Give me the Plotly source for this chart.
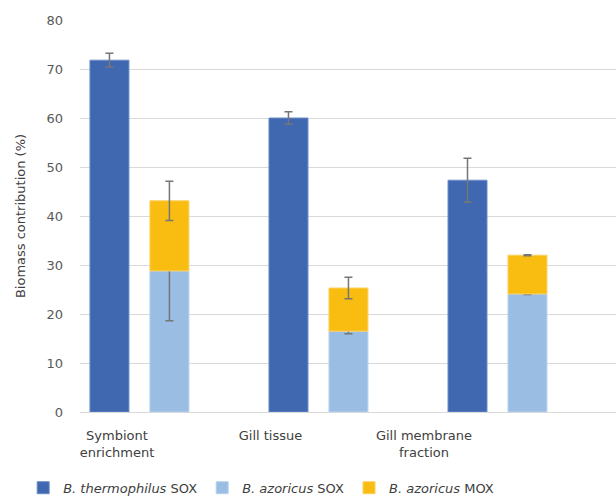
import plotly.graph_objects as go

# Sample types (category axis) and biomass contributions (%)
categories = ["Symbiont enrichment", "Gill tissue", "Gill membrane fraction"]
category_labels = ["Symbiont<br>enrichment", "Gill tissue", "Gill membrane<br>fraction"]

thermophilus_sox = [71.8, 60.0, 47.3]
thermophilus_sox_err = [1.4, 1.3, 4.5]

azoricus_sox = [28.8, 16.5, 24.1]
azoricus_sox_err = [10.2, 0.55, 0.1]

azoricus_mox = [14.3, 8.8, 7.9]
azoricus_mox_err = [4.0, 2.2, 0.1]

y_ticks = [0, 10, 20, 30, 40, 50, 60, 70, 80]

FONT = "DejaVu Sans"
ERR_COLOR = "#767676"


def err(values):
    return dict(type="data", array=values, visible=True, color=ERR_COLOR,
                thickness=1.5, width=4)


fig = go.Figure()

fig.add_trace(go.Bar(
    x=categories, y=thermophilus_sox, name="<i>B. thermophilus</i> SOX",
    offsetgroup="thermo", marker=dict(color="#4068b0", line=dict(color="#6a8cc8", width=1)),
    error_y=err(thermophilus_sox_err), hoverinfo="skip",
))
fig.add_trace(go.Bar(
    x=categories, y=azoricus_sox, name="<i>B. azoricus</i> SOX",
    offsetgroup="azo", marker=dict(color="#99bde3", line=dict(color="#b9d2ee", width=1)),
    error_y=err(azoricus_sox_err), hoverinfo="skip",
))
fig.add_trace(go.Bar(
    x=categories, y=azoricus_mox, base=azoricus_sox, name="<i>B. azoricus</i> MOX",
    offsetgroup="azo", marker=dict(color="#f9bd12", line=dict(color="#fbd060", width=1)),
    error_y=err(azoricus_mox_err), hoverinfo="skip",
))

# Category captions live on an overlaid axis of their own
fig.add_trace(go.Scatter(
    x=categories, y=[0] * len(categories), xaxis="x2", mode="markers",
    marker=dict(opacity=0), showlegend=False, hoverinfo="skip",
))

fig.update_layout(
    width=616, height=496,
    margin=dict(l=80, r=0, t=20, b=84, autoexpand=False),
    paper_bgcolor="white", plot_bgcolor="white",
    font=dict(family=FONT, size=13, color="#404040"),
    barmode="group", bargap=0.33, bargroupgap=0.35,
    showlegend=True,
    legend=dict(orientation="h", x=-0.106, xanchor="left", y=-0.155, yanchor="top",
                font=dict(family=FONT, size=13, color="#404040"),
                traceorder="normal"),
    xaxis=dict(type="category", range=[-0.332, 2.662], showticklabels=False,
               showgrid=False, zeroline=False, showline=False, fixedrange=True,
               automargin=False),
    xaxis2=dict(type="category", overlaying="x", side="bottom", range=[-0.241, 3.251],
                tickmode="array", tickvals=categories, ticktext=category_labels,
                showgrid=False, zeroline=False, showline=False, ticks="",
                ticklabelstandoff=14, automargin=False,
                tickfont=dict(family=FONT, size=13, color="#404040")),
    yaxis=dict(range=[0, 80], tickvals=y_ticks, showgrid=True, gridcolor="#d9d9d9",
               gridwidth=1, zeroline=True, zerolinecolor="#d9d9d9", zerolinewidth=1,
               showline=False, ticklabelstandoff=16, automargin=False,
               tickfont=dict(family=FONT, size=13, color="#595959"),
               title=dict(text="Biomass contribution (%)", standoff=17,
                          font=dict(family=FONT, size=13, color="#404040"))),
)

fig.write_html("out.html")
